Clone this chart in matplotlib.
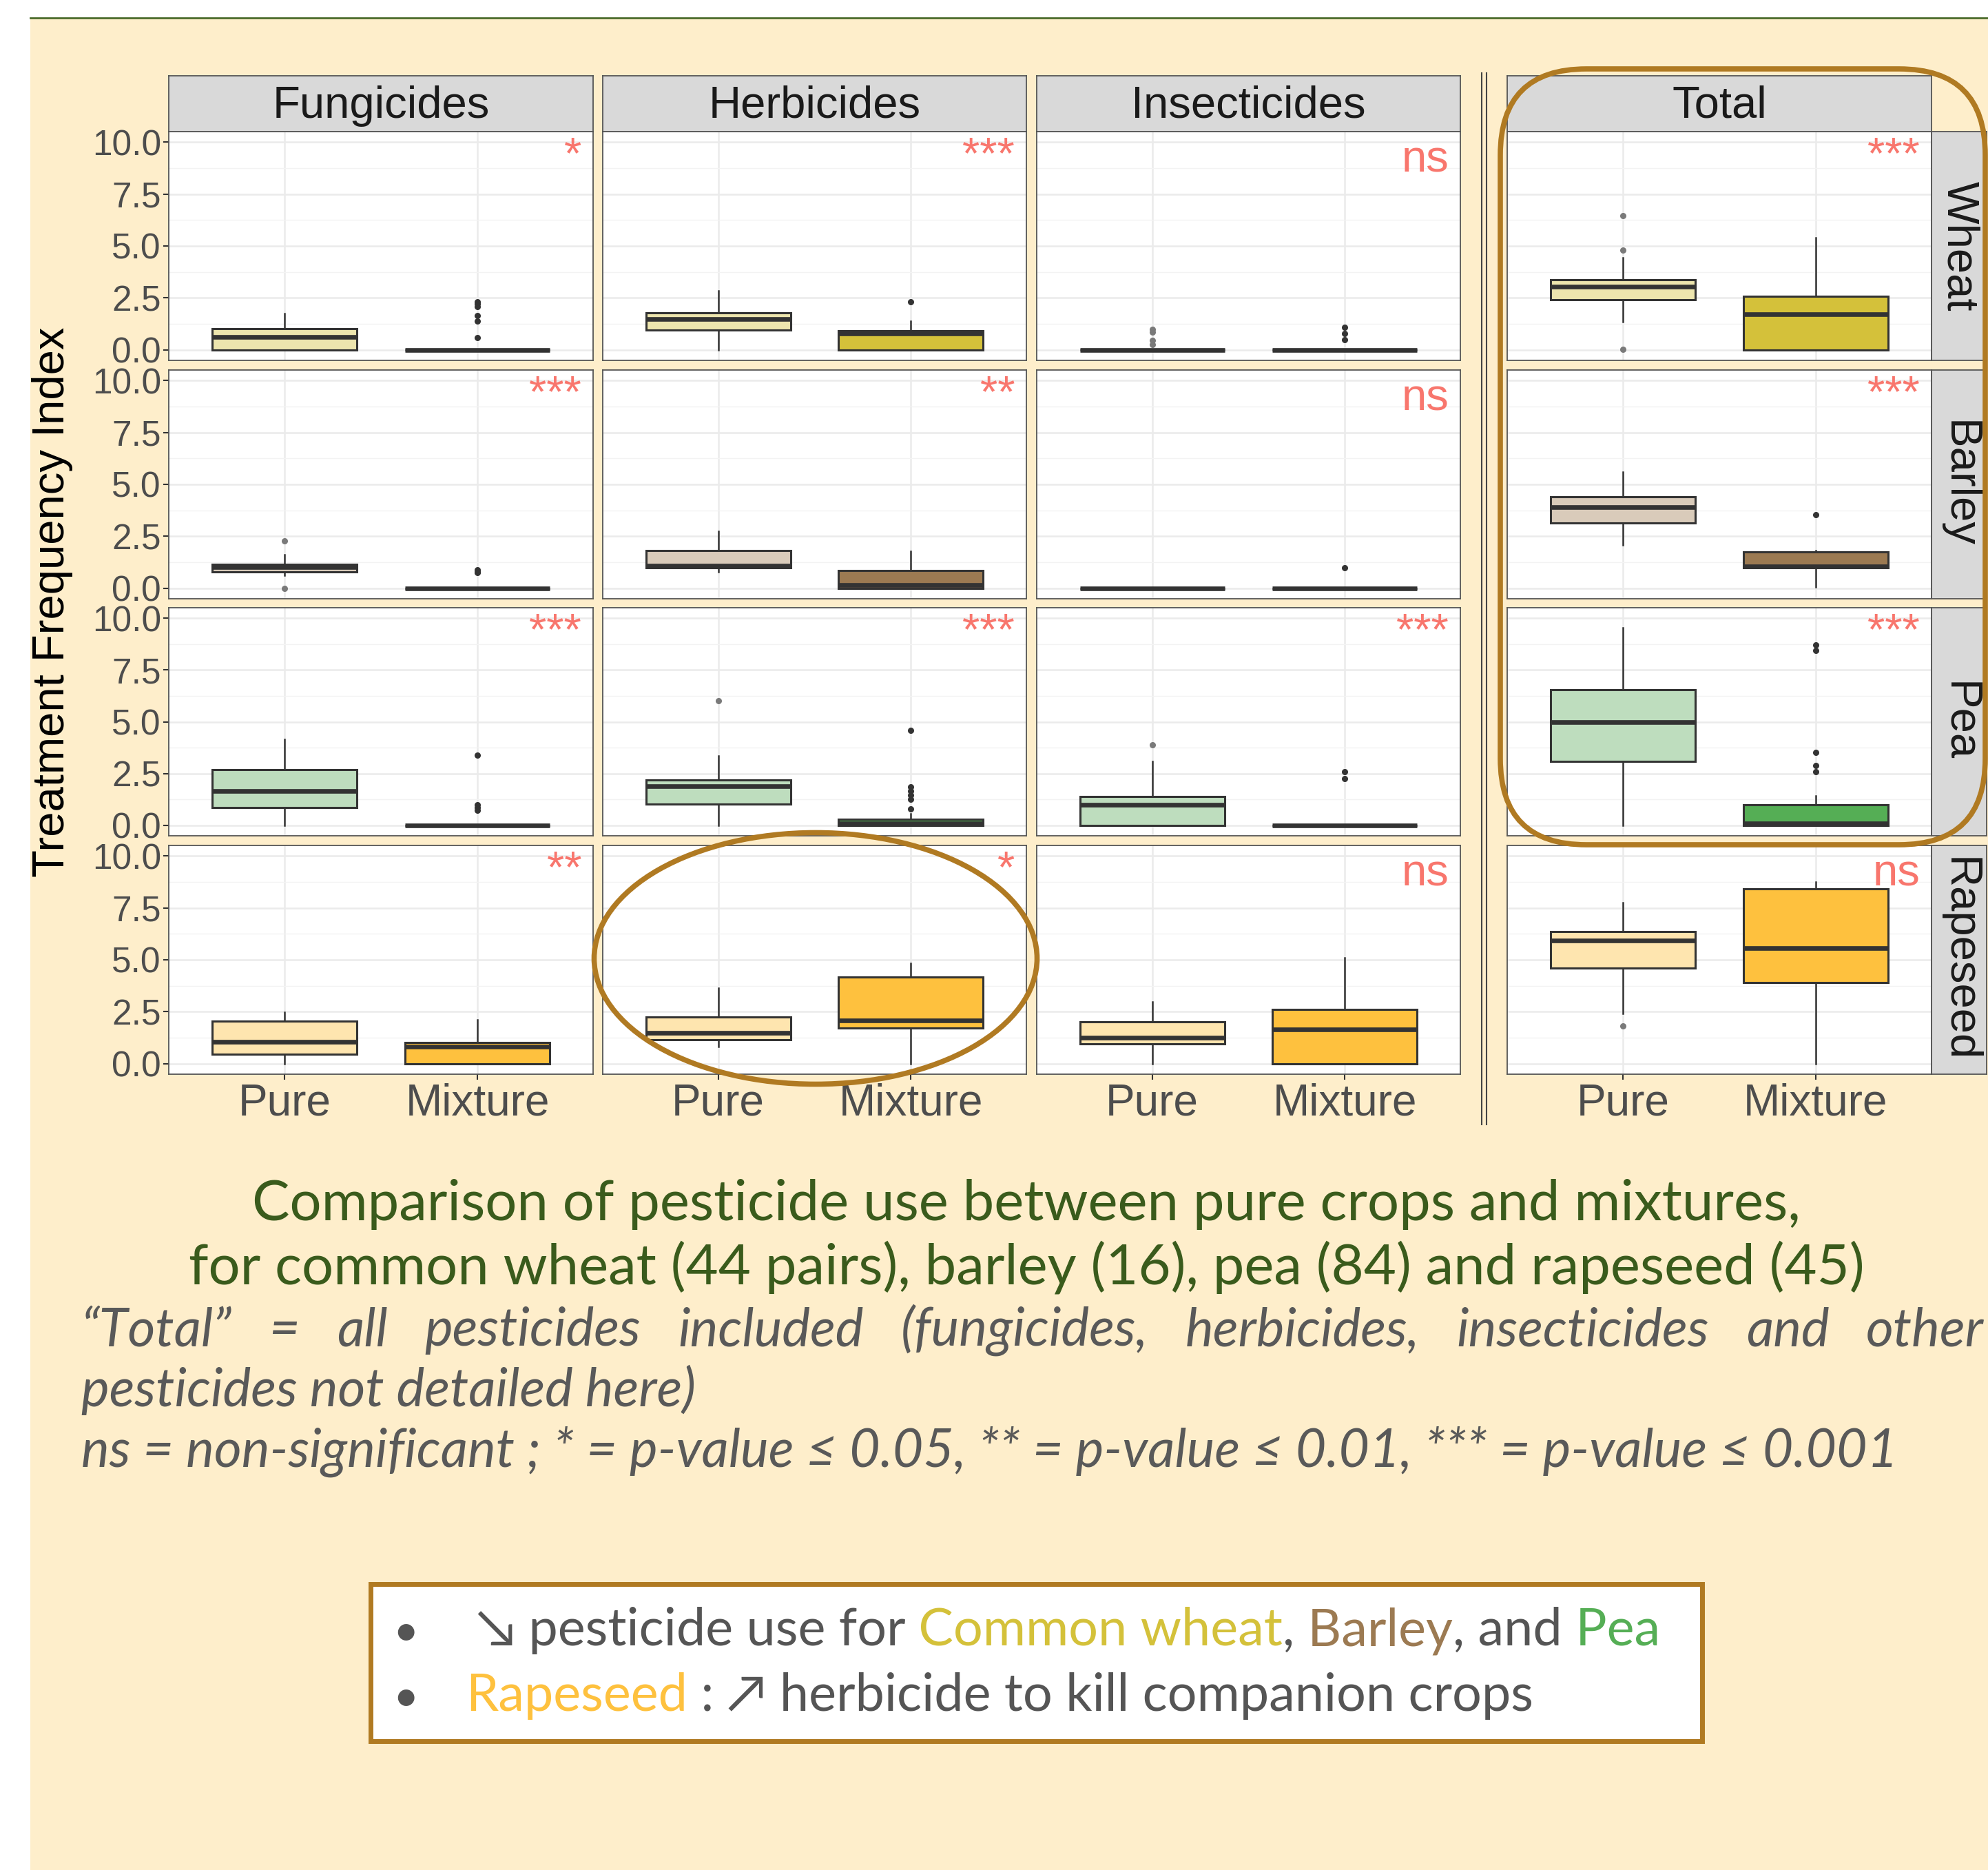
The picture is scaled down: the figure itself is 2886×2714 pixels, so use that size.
import matplotlib
matplotlib.use('Agg')
import matplotlib.pyplot as plt
from matplotlib.patches import Ellipse, FancyBboxPatch, Rectangle

# ---- data (box stats: whislo, q1, med, q3, whishi) ----
crops = ['Wheat', 'Barley', 'Pea', 'Rapeseed']
pesticides = ['Fungicides', 'Herbicides', 'Insecticides', 'Total']
groups = ['Pure', 'Mixture']

# per crop: [pesticide][group]
wheat_box = [
    [(0, 0, 0.63, 1.01, 1.74), (0, 0, 0, 0, 0)],
    [(0, 0.95, 1.49, 1.77, 2.85), (0, 0, 0.80, 0.92, 1.38)],
    [(0, 0, 0, 0, 0), (0, 0, 0, 0, 0)],
    [(1.36, 2.42, 3.05, 3.36, 4.44), (0, 0, 1.72, 2.58, 5.40)],
]
barley_box = [
    [(0.63, 0.78, 1.02, 1.15, 1.61), (0, 0, 0, 0, 0)],
    [(0.79, 0.98, 1.10, 1.83, 2.76), (0, 0, 0.16, 0.85, 1.77)],
    [(0, 0, 0, 0, 0), (0, 0, 0, 0, 0)],
    [(2.07, 3.14, 3.91, 4.39, 5.60), (0.05, 0.98, 1.05, 1.74, 1.82)],
]
pea_box = [
    [(0, 0.85, 1.65, 2.68, 4.15), (0, 0, 0, 0, 0)],
    [(0, 1.04, 1.89, 2.20, 3.35), (0, 0, 0.10, 0.30, 0.55)],
    [(0, 0, 0.98, 1.40, 3.10), (0, 0, 0, 0, 0)],
    [(0, 3.09, 4.99, 6.56, 9.54), (0, 0, 0.10, 0.99, 1.42)],
]
rapeseed_box = [
    [(0, 0.47, 1.07, 2.04, 2.48), (0, 0, 0.83, 1.02, 2.13)],
    [(0.83, 1.16, 1.49, 2.24, 3.64), (0, 1.73, 2.09, 4.16, 4.85)],
    [(0, 0.97, 1.24, 2.02, 2.98), (0, 0, 1.66, 2.61, 5.09)],
    [(2.43, 4.60, 5.92, 6.36, 7.75), (0, 3.90, 5.57, 8.42, 8.75)],
]

wheat_out = [
    [[], [2.32, 2.22, 2.08, 1.65, 1.38, 0.60]],
    [[], [2.33]],
    [[1.0, 0.85, 0.45, 0.25], [1.1, 0.8, 0.5]],
    [[6.46, 4.80, 0.02], []],
]
barley_out = [
    [[2.29, 0.0], [0.9, 0.8, 0.75]],
    [[], []],
    [[], [1.0]],
    [[], [3.54]],
]
pea_out = [
    [[], [3.40, 0.98, 0.85, 0.73]],
    [[6.0], [4.57, 1.85, 1.65, 1.45, 1.25, 0.80]],
    [[3.9], [2.60, 2.25]],
    [[], [8.70, 8.45, 3.52, 2.90, 2.60]],
]
rapeseed_out = [
    [[], []],
    [[], []],
    [[], []],
    [[1.82], []],
]

wheat_sig = ['*', '***', 'ns', '***']
barley_sig = ['***', '**', 'ns', '***']
pea_sig = ['***', '***', '***', '***']
rapeseed_sig = ['**', '*', 'ns', 'ns']

pure_colors = ['#EDE5AE', '#D9CBBA', '#BEDDBE', '#FEE5AF']
mix_colors = ['#D4C13A', '#9C7A52', '#55AE55', '#FEC13E']

box_data = [wheat_box, barley_box, pea_box, rapeseed_box]
out_data = [wheat_out, barley_out, pea_out, rapeseed_out]
sig_data = [wheat_sig, barley_sig, pea_sig, rapeseed_sig]

y_ticks = [0, 2.5, 5, 7.5, 10]
y_labels = ['0.0', '2.5', '5.0', '7.5', '10.0']

# ---- layout ----
W, H = 2886, 2714
cream = '#FEEECB'
brown = '#B07A22'
fig = plt.figure(figsize=(W / 100, H / 100), dpi=100)
fig.patch.set_facecolor('white')
plot_font = 'Liberation Sans'
cap_font = ['Lato', 'DejaVu Sans']


def rect(x0, y0, x1, y1):
    return [x0 / W, 1 - y1 / H, (x1 - x0) / W, (y1 - y0) / H]


bg = fig.add_axes([0, 0, 1, 1], zorder=0)
bg.set_xlim(0, W)
bg.set_ylim(H, 0)
bg.axis('off')
bg.add_patch(Rectangle((44, 26), W - 44, H - 26, color=cream, lw=0))
bg.plot([44, W], [26, 26], color='#4B6B2B', lw=2)

col_x = [(245, 861), (875, 1490), (1505, 2120), (2188, 2804)]
row_y = [(191, 523), (537, 869), (882, 1213), (1227, 1559)]

for r, crop in enumerate(crops):
    for c, pest in enumerate(pesticides):
        x0, x1 = col_x[c]
        y0, y1 = row_y[r]
        ax = fig.add_axes(rect(x0, y0, x1, y1), zorder=2)
        ax.set_facecolor('white')
        stats = []
        for g in range(2):
            lo, q1, med, q3, hi = box_data[r][c][g]
            stats.append(dict(whislo=lo, q1=q1, med=med, q3=q3, whishi=hi,
                              fliers=out_data[r][c][g], label=groups[g]))
        bp = ax.bxp(stats, positions=[1, 2], widths=0.75, patch_artist=True,
                    showcaps=False,
                    boxprops=dict(edgecolor='#333333', lw=2.2),
                    medianprops=dict(color='#333333', lw=4.8, solid_capstyle='butt'),
                    whiskerprops=dict(color='#333333', lw=1.8),
                    flierprops=dict(marker='o', markersize=6.5, markeredgewidth=0,
                                    linestyle='none'))
        bp['boxes'][0].set_facecolor(pure_colors[r])
        bp['boxes'][1].set_facecolor(mix_colors[r])
        bp['fliers'][0].set_markerfacecolor('#7A7A7A')
        bp['fliers'][1].set_markerfacecolor('#333333')
        for b in bp['boxes']:
            b.set_zorder(3)
        for m in bp['medians']:
            m.set_zorder(4)

        ax.set_xlim(0.4, 2.6)
        ax.set_ylim(-0.5, 10.5)
        ax.set_yticks(y_ticks)
        ax.set_yticks([1.25, 3.75, 6.25, 8.75], minor=True)
        ax.set_xticks([1, 2])
        ax.grid(which='major', color='#EBEBEB', lw=1.8)
        ax.grid(which='minor', axis='y', color='#F3F3F3', lw=1.0)
        ax.set_axisbelow(True)
        for s in ax.spines.values():
            s.set_color('#555555')
            s.set_linewidth(1.3)
        ax.tick_params(which='minor', length=0)
        ax.tick_params(which='major', length=6, width=1.5, color='#333333',
                       labelcolor='#4D4D4D')
        if c == 0:
            ax.set_yticklabels(y_labels, fontsize=37, family=plot_font)
            ax.tick_params(axis='y', pad=2)
        else:
            ax.tick_params(axis='y', length=0, labelleft=False)
        if r == 3:
            ax.set_xticklabels(groups, fontsize=46, family=plot_font)
            ax.tick_params(axis='x', pad=3)
        else:
            ax.tick_params(axis='x', length=0, labelbottom=False)

        sig = sig_data[r][c]
        sy = 8.57 if sig == 'ns' else 8.75
        ax.text(2.54, sy, sig, ha='right', va='baseline',
                color='#F8766D', fontsize=47, family=plot_font, zorder=6)

# column strips
for c, pest in enumerate(pesticides):
    x0, x1 = col_x[c]
    sa = fig.add_axes(rect(x0, 110, x1, 191), zorder=2)
    sa.set_facecolor('#D9D9D9')
    sa.set_xticks([])
    sa.set_yticks([])
    for s in sa.spines.values():
        s.set_color('#555555')
        s.set_linewidth(1.3)
    sa.text(0.5, 0.46, pest, ha='center', va='center', fontsize=47,
            family=plot_font, color='#1A1A1A', transform=sa.transAxes)

# row strips
for r, crop in enumerate(crops):
    y0, y1 = row_y[r]
    sa = fig.add_axes(rect(2804, y0, 2884, y1), zorder=2)
    sa.set_facecolor('#D9D9D9')
    sa.set_xticks([])
    sa.set_yticks([])
    for s in sa.spines.values():
        s.set_color('#555555')
        s.set_linewidth(1.3)
    sa.text(0.5, 0.5, crop, ha='center', va='center', rotation=-90, fontsize=47,
            family=plot_font, color='#1A1A1A', transform=sa.transAxes)

# ---- overlay: annotations and caption ----
ov = fig.add_axes([0, 0, 1, 1], zorder=10)
ov.set_xlim(0, W)
ov.set_ylim(H, 0)
ov.axis('off')
ov.patch.set_alpha(0)

ov.text(76, 874, 'Treatment Frequency Index', rotation=90, ha='center',
        va='center', fontsize=47, family=plot_font, color='black')

ov.plot([2151, 2151], [106, 1632], color='#444444', lw=1.5)
ov.plot([2158, 2158], [106, 1632], color='#444444', lw=1.5)

ov.add_patch(FancyBboxPatch((2178, 100), 2882 - 2178, 1226 - 100,
                            boxstyle='round,pad=0,rounding_size=125',
                            fill=False, ec=brown, lw=5.5))
ov.add_patch(Ellipse((1184, 1391), 643, 365, fill=False, ec=brown, lw=5.5))

renderer = fig.canvas.get_renderer()


def width_of(pieces, **kw):
    total = 0
    for s, col in pieces:
        t = ov.text(0, 0, s, **kw)
        total += t.get_window_extent(renderer=renderer).width
        t.remove()
    return total


def fit_size(pieces, target, size, **kw):
    w = width_of(pieces, fontsize=size, **kw)
    return size * target / w


def draw_pieces(x, y, pieces, **kw):
    for s, col in pieces:
        t = ov.text(x, y, s, color=col, ha='left', va='baseline', **kw)
        x += t.get_window_extent(renderer=renderer).width


green = '#3A5B1C'
title1 = [('Comparison of pesticide use between pure crops and mixtures,', green)]
title2 = [('for common wheat (44 pairs), barley (16), pea (84) and rapeseed (45)', green)]
ts = fit_size(title1, 2247, 50, family=cap_font)
w1 = width_of(title1, fontsize=ts, family=cap_font)
w2 = width_of(title2, fontsize=ts, family=cap_font)
draw_pieces(1490 - w1 / 2, 1771, title1, fontsize=ts, family=cap_font)
draw_pieces(1490 - w2 / 2, 1864, title2, fontsize=ts, family=cap_font)

grey = '#595959'
ital = dict(family=cap_font, style='italic', weight='normal')
line3 = [('ns = non-significant ; * = p-value \u2264 0.05, ** = p-value \u2264 0.01, '
          '*** = p-value \u2264 0.001', grey)]
isz = fit_size(line3, 2637, 45, **ital)
draw_pieces(118, 2129, line3, fontsize=isz, **ital)
draw_pieces(118, 2041, [('pesticides not detailed here)', grey)], fontsize=isz, **ital)

# justified first line
words = ['\u201cTotal\u201d', '=', 'all', 'pesticides', 'included', '(fungicides,',
         'herbicides,', 'insecticides', 'and', 'other']
ww = [width_of([(w_, grey)], fontsize=isz, **ital) for w_ in words]
gap = (2880 - 118 - sum(ww)) / (len(words) - 1)
xx = 118
for w_, wv in zip(words, ww):
    ov.text(xx, 1953, w_, color=grey, ha='left', va='baseline', fontsize=isz, **ital)
    xx += wv + gap

# legend box
ov.add_patch(Rectangle((538, 2299), 2471 - 538, 2527 - 2299, fc='white',
                       ec=brown, lw=5))
dark = '#555555'
l1 = [('\u2198', dark), (' pesticide use for', dark), (' Common wheat', mix_colors[0]),
      (',', dark), (' Barley', mix_colors[1]), (', and', dark), (' Pea', mix_colors[2])]
l2 = [('Rapeseed', mix_colors[3]), (' : \u2197 herbicide to kill companion crops', dark)]
bsz = fit_size(l1, 2409 - 691, 50, family=cap_font)
ov.text(589, 2388, '\u2022', color=dark, ha='center', va='baseline',
        fontsize=bsz * 0.85, family=cap_font)
ov.text(589, 2483, '\u2022', color=dark, ha='center', va='baseline',
        fontsize=bsz * 0.85, family=cap_font)
draw_pieces(691, 2388, l1, fontsize=bsz, family=cap_font)
draw_pieces(676, 2483, l2, fontsize=bsz, family=cap_font)

fig.savefig('out.png', dpi=100, facecolor=fig.get_facecolor())
